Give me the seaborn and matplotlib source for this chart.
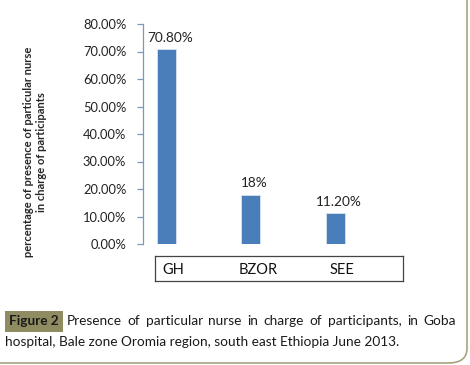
import matplotlib
matplotlib.use("Agg")
import matplotlib.pyplot as plt
import seaborn as sns
import pandas as pd
from matplotlib.patches import FancyBboxPatch, Rectangle

# data
sites = ["GH", "BZOR", "SEE"]
percent = [70.8, 18.0, 11.2]
bar_labels = ["70.80%", "18%", "11.20%"]
yticks = [0, 10, 20, 30, 40, 50, 60, 70, 80]

sns.set_style("white")
plt.rcParams["font.family"] = ["Lato", "DejaVu Sans"]

df = pd.DataFrame({"site": sites, "percent": percent})

W, H = 470, 365
fig = plt.figure(figsize=(4.7, 3.65), dpi=100)

def px(l, t, w, h):
    return [l / W, (H - t - h) / H, w / W, h / H]

# outer rounded frame of the figure panel
frame = FancyBboxPatch((-20 / W, 2 / H), 487 / W, 400 / H,
                       boxstyle="round,pad=0,rounding_size=0.04",
                       transform=fig.transFigure, facecolor="none",
                       edgecolor="#a8a37e", linewidth=1.2)
fig.patches.append(frame)

ax = fig.add_axes(px(143, 24, 260, 220))
sns.barplot(data=df, x="site", y="percent", color="#4a7ebb", saturation=1,
            width=0.225, edgecolor="#d7e2f0", linewidth=0.6, ax=ax)
ax.set_xlim(-0.278, 2.8)
ax.set_ylim(0, 80)
ax.set_yticks(yticks)
ax.set_yticklabels([f"{v:.2f}%" for v in yticks], fontsize=9.3, color="#222222")
ax.set_xticks([])
ax.set_xlabel("")
ax.set_ylabel("percentage of presence of particular nurse\nin charge of participants",
              fontsize=8.0, fontweight="bold", linespacing=1.2)
ax.yaxis.set_label_coords(-0.37, 0.42)
for s in ["top", "right", "bottom"]:
    ax.spines[s].set_visible(False)
ax.spines["left"].set_color("#7f96b8")
ax.spines["left"].set_linewidth(0.9)
ax.tick_params(axis="y", left=True, length=4, width=0.9, color="#7f96b8", pad=8)
ax.patch.set_alpha(0)

for i, (v, lab) in enumerate(zip(percent, bar_labels)):
    ax.text(i + 0.04, v + 2.0, lab, ha="center", va="bottom", fontsize=9.8, color="#222222")

# category box below the axis
bx = fig.add_axes(px(155, 256, 248, 25))
bx.set_xlim(-0.136, 2.8)
bx.set_ylim(0, 1)
bx.set_xticks([])
bx.set_yticks([])
for s in bx.spines.values():
    s.set_color("#444444")
    s.set_linewidth(0.9)
for i, name in enumerate(sites):
    bx.text(i + 0.08, 0.45, name, ha="center", va="center", fontsize=10.5, color="#111111")

# caption
fig.patches.append(Rectangle((5 / W, (H - 332) / H), 58 / W, 21 / H,
                             transform=fig.transFigure, facecolor="#8f8c62",
                             edgecolor="none"))
fig.text(34 / W, (H - 321) / H, "Figure 2", ha="center", va="center",
         fontsize=9.8, fontweight="bold", color="#1a1a1a")
line1 = "Presence of particular nurse in charge of participants, in Goba".split(" ")
# spread the words of the first line so it is justified like the reference
r = fig.canvas.get_renderer()
texts = [fig.text(0, (H - 321) / H, w, ha="left", va="center", fontsize=9.8,
                  color="#1a1a1a") for w in line1]
widths = [t.get_window_extent(r).width for t in texts]
gap = (456 - 67 - sum(widths)) / (len(texts) - 1)
x = 67
for t, wd in zip(texts, widths):
    t.set_x(x / W)
    x += wd + gap
fig.text(5 / W, (H - 342) / H,
         "hospital, Bale zone Oromia region, south east Ethiopia June 2013.",
         ha="left", va="center", fontsize=9.8, color="#1a1a1a")

fig.savefig("out.png", dpi=100)
